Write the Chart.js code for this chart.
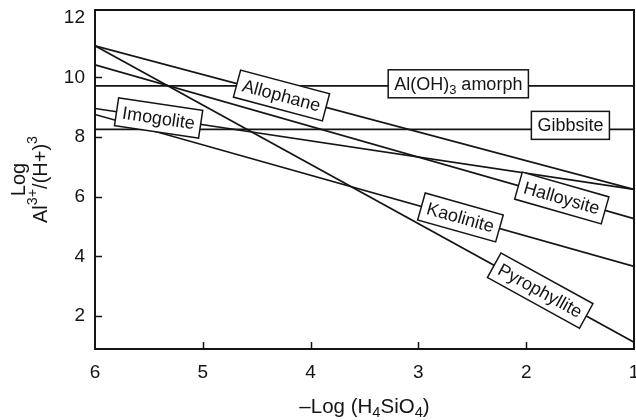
<!DOCTYPE html>
<html>
<head>
<meta charset="utf-8">
<script src="https://cdn.jsdelivr.net/npm/chart.js@4/dist/chart.umd.min.js"></script>
<style>
  body { margin: 0; background: #fff; }
  #wrap { width: 636px; height: 420px; }
</style>
</head>
<body>
<div id="wrap"><canvas id="chart"></canvas></div>
<script>
// -Log(H4SiO4) at the two ends of every line
var xEnds = [6, 1];
// Log Al3+/(H+)3 at those ends
var amorph = [9.72, 9.72];
var gibbsite = [8.26, 8.26];
var allophane = [11.06, 6.25];
var pyrophyllite = [11.06, 1.13];
var halloysite = [10.42, 5.27];
var imogolite = [8.96, 6.25];
var kaolinite = [8.76, 3.67];

var series = [amorph, gibbsite, allophane, pyrophyllite, halloysite, imogolite, kaolinite];
var names = ["Al(OH)_{3} amorph", "Gibbsite", "Allophane", "Pyrophyllite", "Halloysite", "Imogolite", "Kaolinite"];
// where along x each boxed name sits
var labelAt = [2.63, 1.59, 4.27, 1.87, 1.67, 5.41, 2.61];
var labelLift = [2, 4, 0, 0, 0, 0, 0];

var xTicks = [6, 5, 4, 3, 2, 1];
var yTicks = [2, 4, 6, 8, 10, 12];
var xMarks = [5, 4, 3, 2];
var yMarks = [2, 4, 6, 8, 10];

var FONT = '"Liberation Sans", Arial, Helvetica, sans-serif';
var INK = '#151515';

function richParts(str) {
    var parts = [], re = /([_^])\{([^}]*)\}/g, last = 0, m;
    while ((m = re.exec(str))) {
        if (m.index > last) parts.push({ t: str.slice(last, m.index), k: '' });
        parts.push({ t: m[2], k: m[1] });
        last = re.lastIndex;
    }
    if (last < str.length) parts.push({ t: str.slice(last), k: '' });
    return parts;
}

function measureRich(ctx, str, size) {
    var parts = richParts(str), w = 0;
    parts.forEach(function (p) {
        ctx.font = (p.k ? size * 0.72 : size) + 'px ' + FONT;
        p.w = ctx.measureText(p.t).width;
        w += p.w;
    });
    return { parts: parts, w: w };
}

function drawRich(ctx, str, cx, cy, size) {
    var r = measureRich(ctx, str, size), x = cx - r.w / 2;
    ctx.textAlign = 'left';
    ctx.textBaseline = 'middle';
    r.parts.forEach(function (p) {
        ctx.font = (p.k ? size * 0.72 : size) + 'px ' + FONT;
        var dy = p.k === '_' ? size * 0.3 : (p.k === '^' ? -size * 0.38 : 0);
        ctx.fillText(p.t, x, cy + dy);
        x += p.w;
    });
    return r.w;
}

var frame = {
    id: 'frame',
    afterDraw: function (chart) {
        var ctx = chart.ctx, a = chart.chartArea, xs = chart.scales.x, ys = chart.scales.y;
        ctx.save();
        ctx.strokeStyle = INK;
        ctx.lineWidth = 2;
        ctx.strokeRect(a.left, a.top, a.right - a.left, a.bottom - a.top);
        ctx.lineWidth = 1.5;
        ctx.beginPath();
        yMarks.forEach(function (v) {
            var y = Math.round(ys.getPixelForValue(v)) + 0.5;
            ctx.moveTo(a.left, y); ctx.lineTo(a.left + 7, y);
        });
        xMarks.forEach(function (v) {
            var x = Math.round(xs.getPixelForValue(v)) + 0.5;
            ctx.moveTo(x, a.bottom); ctx.lineTo(x, a.bottom - 7);
        });
        ctx.stroke();

        // axis titles
        ctx.fillStyle = INK;
        var midY = (a.top + a.bottom) / 2;
        drawRich(ctx, '\u2013Log (H_{4}SiO_{4})', (a.left + a.right) / 2, a.bottom + 58, 20.5);
        ctx.translate(a.left - 76, midY);
        ctx.rotate(-Math.PI / 2);
        drawRich(ctx, 'Log', 0, 0, 20);
        ctx.translate(0, 22);
        drawRich(ctx, 'Al^{3+}/(H+)^{3}', 0, 0, 20);
        ctx.restore();
    }
};

var boxLabels = {
    id: 'boxLabels',
    afterDatasetsDraw: function (chart) {
        var ctx = chart.ctx, xs = chart.scales.x, ys = chart.scales.y;
        ctx.save();
        names.forEach(function (txt, i) {
            var s = series[i];
            var x0 = xs.getPixelForValue(xEnds[0]), x1 = xs.getPixelForValue(xEnds[1]);
            var y0 = ys.getPixelForValue(s[0]), y1 = ys.getPixelForValue(s[1]);
            var t = (labelAt[i] - xEnds[0]) / (xEnds[1] - xEnds[0]);
            var px = xs.getPixelForValue(labelAt[i]);
            var py = ys.getPixelForValue(s[0] + t * (s[1] - s[0])) - labelLift[i];
            var ang = Math.atan2(y1 - y0, x1 - x0);
            var w = measureRich(ctx, txt, 18).w + 12, h = 28;
            ctx.save();
            ctx.translate(px, py);
            ctx.rotate(ang);
            ctx.fillStyle = '#fff';
            ctx.fillRect(-w / 2, -h / 2, w, h);
            ctx.strokeStyle = INK;
            ctx.lineWidth = 1.5;
            ctx.strokeRect(-w / 2, -h / 2, w, h);
            ctx.fillStyle = INK;
            drawRich(ctx, txt, 0, 1, 18);
            ctx.restore();
        });
        ctx.restore();
    }
};

new Chart(document.getElementById('chart'), {
    type: 'line',
    data: {
        datasets: series.map(function (s, i) {
            return {
                label: names[i],
                data: xEnds.map(function (x, j) { return { x: x, y: s[j] }; }),
                borderColor: INK,
                borderWidth: 1.7,
                pointRadius: 0,
                tension: 0,
                fill: false
            };
        })
    },
    options: {
        responsive: true,
        maintainAspectRatio: false,
        animation: false,
        layout: { padding: { top: 10, right: 2, left: 0, bottom: 0 } },
        plugins: { legend: { display: false }, tooltip: { enabled: false } },
        scales: {
            x: {
                type: 'linear',
                reverse: true,
                min: 1,
                max: 6,
                afterBuildTicks: function (s) { s.ticks = xTicks.map(function (v) { return { value: v }; }); },
                afterFit: function (s) { s.height = 71; s.paddingLeft = 0; s.paddingRight = 0; },
                grid: { display: false, drawTicks: false },
                border: { display: false },
                ticks: { color: INK, font: { family: FONT, size: 19 }, padding: 12, maxRotation: 0, autoSkip: false }
            },
            y: {
                min: 0.9,
                max: 12.26,
                afterBuildTicks: function (s) { s.ticks = yTicks.map(function (v) { return { value: v }; }); },
                afterFit: function (s) { s.width = 95; s.paddingTop = 0; s.paddingBottom = 0; },
                grid: { display: false, drawTicks: false },
                border: { display: false },
                ticks: { color: INK, font: { family: FONT, size: 19 }, padding: 10 }
            }
        }
    },
    plugins: [boxLabels, frame]
});
</script>
</body>
</html>
